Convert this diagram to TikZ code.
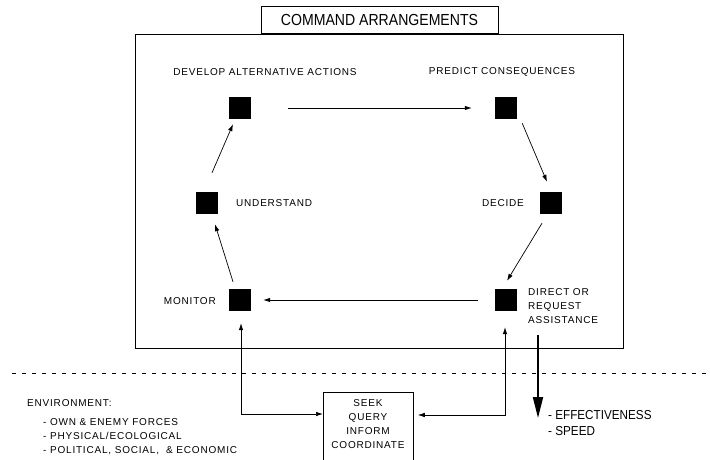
\documentclass[tikz,border=0pt]{standalone}
\usepackage{fontspec}
\setmainfont{Liberation Sans}
\newfontfamily\lblfont[LetterSpace=8]{Liberation Sans}
\usetikzlibrary{arrows.meta,calc}
\begin{document}
\begin{tikzpicture}[x=1pt,y=-1pt,
  sq/.style={fill=black,draw=none,minimum size=22pt,inner sep=0pt},
  lab/.style={font=\lblfont\fontsize{10}{14}\selectfont,inner sep=0pt},
  conn/.style={-{Latex[length=7pt,width=4.5pt]},line width=0.7pt},
  bi/.style={{Latex[length=7pt,width=4.5pt]}-{Latex[length=7pt,width=4.5pt]},line width=0.7pt},
  thickarr/.style={-{Triangle[length=21pt,width=10pt]},line width=2pt},
  frame/.style={draw,line width=0.8pt,inner sep=0pt}]
\useasboundingbox (0,0) rectangle (710,460);
\clip (0,0) rectangle (710,460);
% boxes
\node[frame,minimum width=488pt,minimum height=314pt,anchor=north west] (main) at (135,34) {};
\node[frame,minimum width=237pt,minimum height=27pt,anchor=south,fill=white] (title) at (379.5,34)
  {\scalebox{0.88}[1]{\fontsize{16}{18}\selectfont COMMAND ARRANGEMENTS}};
% squares
\node[sq] (dv) at (240,108) {};
\node[sq] (pc) at (506,108) {};
\node[sq] (us) at (207,203) {};
\node[sq] (de) at (551,203) {};
\node[sq] (mo) at (240,300) {};
\node[sq] (di) at (506,300) {};
% labels
\node[lab] (ldv) at (265,72) {DEVELOP ALTERNATIVE ACTIONS};
\node[lab] (lpc) at (502,72) {PREDICT CONSEQUENCES};
\node[lab,anchor=west] (lus) at (236,203) {UNDERSTAND};
\node[lab,anchor=east] (lde) at (524,203) {DECIDE};
\node[lab,anchor=east] (lmo) at (216,301) {MONITOR};
\node[lab,anchor=west,align=left] (ldi) at (528,306) {DIRECT OR\\REQUEST\\ASSISTANCE};
% cycle arrows
\draw[conn,shorten <=37pt,shorten >=23pt] (dv.east) -- (pc.west);
\draw[conn] ($(pc.south east)+(5,4)$) -- ($(de.north)+(-4,-10)$);
\draw[conn] ($(de.south)+(-9,9)$) -- ($(di.north)+(1,-8)$);
\draw[conn] ($(di.west)+(-17,0)$) -- ($(mo.east)+(12,0)$);
\draw[conn] ($(mo.north)+(-7,-7)$) -- ($(us.south)+(8,10)$);
\draw[conn] ($(us.north)+(5,-19)$) -- ($(dv.south)+(-7,5)$);
% dashed boundary
\coordinate (dl) at (12,373);
\coordinate (dr) at (712,373);
\draw[line width=0.7pt,dash pattern=on 4pt off 6pt] (dl) -- (dr);
% seek box
\node[frame,minimum width=90pt,minimum height=90pt,anchor=north west] (seek) at (323,392) {};
\node[lab,align=center] (seektxt) at (368,424) {SEEK\\QUERY\\INFORM\\COORDINATE};
\draw[bi] ($(mo.south)+(1,12)$) |- ($(seek.north west)+(0,22)$);
\draw[bi] ($(di.south)+(-1,16)$) |- ($(seek.north east)+(4,23)$);
% output
\coordinate (out) at (538,418);
\draw[thickarr] ($(di.south)+(32,24)$) -- (out);
\node[inner sep=0pt,anchor=west,align=left,font=\fontsize{13}{16}\selectfont] (eff) at (548,423)
  {\scalebox{0.9}[1]{- EFFECTIVENESS}\\\scalebox{0.9}[1]{- SPEED}};
% environment
\node[lab,anchor=west] (env) at (27,403) {ENVIRONMENT:};
\node[lab,anchor=west,align=left] (envl) at (43,437)
  {- OWN \& ENEMY FORCES\\- PHYSICAL/ECOLOGICAL\\- POLITICAL, SOCIAL, \ \& ECONOMIC};
\end{tikzpicture}
\end{document}
